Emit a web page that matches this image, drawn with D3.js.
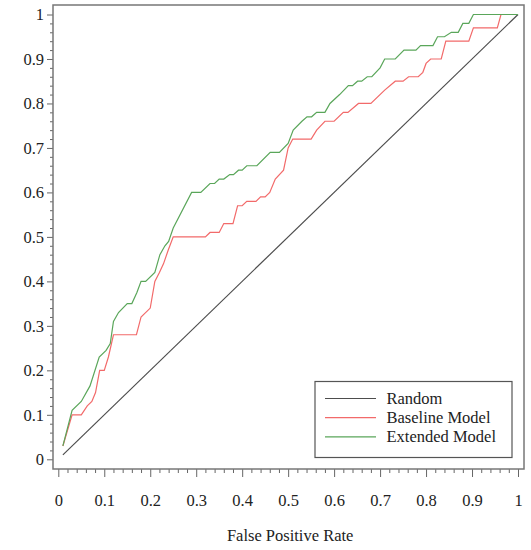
<!DOCTYPE html>
<html>
<head>
<meta charset="utf-8">
<script src="https://cdn.jsdelivr.net/npm/d3@7"></script>
<style>
  html, body { margin: 0; padding: 0; background: #fff; }
  svg { display: block; }
  text { font-family: "Liberation Serif", "Times New Roman", serif; fill: #222; }
</style>
</head>
<body>
<svg id="chart" width="531" height="550"></svg>
<script>
// ---- data ----
const seriesNames = ["Random", "Baseline Model", "Extended Model"];
const seriesColors = ["#4d4d4d", "#f26a6a", "#5aa65a"];

const randomFPR = [0.01, 1.0];
const randomTPR = [0.01, 1.0];

const baselineFPR = [0.01,0.03,0.05,0.063,0.073,0.081,0.09,0.10,0.109,0.12,0.17,0.18,0.20,0.21,0.22,0.229,0.239,0.25,0.32,0.33,0.35,0.36,0.38,0.39,0.40,0.41,0.43,0.44,0.45,0.46,0.472,0.49,0.50,0.51,0.55,0.562,0.58,0.60,0.62,0.63,0.653,0.68,0.71,0.733,0.75,0.762,0.783,0.793,0.80,0.81,0.833,0.843,0.893,0.903,0.955,0.963,1.0];
const baselineTPR = [0.03,0.10,0.10,0.12,0.13,0.15,0.20,0.20,0.23,0.28,0.28,0.32,0.34,0.40,0.42,0.44,0.47,0.50,0.50,0.51,0.51,0.53,0.53,0.57,0.57,0.58,0.58,0.59,0.59,0.60,0.63,0.65,0.70,0.72,0.72,0.74,0.76,0.76,0.78,0.78,0.80,0.80,0.83,0.85,0.85,0.86,0.86,0.87,0.89,0.90,0.90,0.94,0.94,0.97,0.97,1.0,1.0];

const extendedFPR = [0.01,0.03,0.05,0.069,0.089,0.104,0.113,0.12,0.131,0.15,0.16,0.171,0.18,0.19,0.21,0.221,0.232,0.24,0.25,0.29,0.31,0.33,0.34,0.35,0.36,0.373,0.381,0.392,0.40,0.41,0.432,0.461,0.481,0.50,0.511,0.53,0.541,0.551,0.562,0.58,0.591,0.612,0.631,0.64,0.651,0.66,0.672,0.682,0.70,0.71,0.733,0.752,0.778,0.788,0.815,0.825,0.84,0.855,0.87,0.88,0.893,0.903,1.0];
const extendedTPR = [0.03,0.11,0.13,0.165,0.23,0.245,0.26,0.31,0.33,0.35,0.35,0.375,0.40,0.40,0.42,0.46,0.48,0.49,0.52,0.60,0.60,0.62,0.62,0.63,0.63,0.64,0.64,0.65,0.65,0.66,0.66,0.69,0.69,0.71,0.74,0.76,0.77,0.77,0.78,0.78,0.80,0.82,0.84,0.84,0.85,0.85,0.86,0.86,0.88,0.90,0.90,0.92,0.92,0.93,0.93,0.95,0.95,0.96,0.96,0.98,0.98,1.0,1.0];

const majorTicks = [0,0.1,0.2,0.3,0.4,0.5,0.6,0.7,0.8,0.9,1];
const majorTickLabels = ["0","0.1","0.2","0.3","0.4","0.5","0.6","0.7","0.8","0.9","1"];
const xTitle = "False Positive Rate";

// ---- layout ----
const svg = d3.select("#chart");
const frame = {left: 53, right: 524, top: 5, bottom: 469};
const x = d3.scaleLinear().domain([0, 1]).range([58.3, 518]);
const y = d3.scaleLinear().domain([0, 1]).range([459.3, 14.5]);

const minorTicks = d3.range(0, 1.0001, 0.02).map(v => +v.toFixed(2))
  .filter(v => !majorTicks.some(m => Math.abs(m - v) < 1e-9));

const fmt = v => majorTickLabels[majorTicks.findIndex(m => Math.abs(m - v) < 1e-9)];

// minor ticks
svg.append("g").attr("transform", `translate(${frame.left},0)`)
  .call(d3.axisLeft(y).tickValues(minorTicks).tickSize(3).tickFormat(""))
  .call(g => g.select(".domain").remove())
  .call(g => g.selectAll("line").attr("stroke", "#666"));
svg.append("g").attr("transform", `translate(0,${frame.bottom})`)
  .call(d3.axisBottom(x).tickValues(minorTicks).tickSize(4).tickFormat(""))
  .call(g => g.select(".domain").remove())
  .call(g => g.selectAll("line").attr("stroke", "#666"));

// major ticks
svg.append("g").attr("transform", `translate(${frame.left},0)`)
  .call(d3.axisLeft(y).tickValues(majorTicks).tickSize(6).tickPadding(3).tickFormat(fmt))
  .call(g => g.select(".domain").remove())
  .call(g => g.selectAll("line").attr("stroke", "#666"))
  .call(g => g.selectAll("text").attr("font-size", 16.5).attr("font-family", "Liberation Serif, serif").attr("fill", "#222"));
svg.append("g").attr("transform", `translate(0,${frame.bottom})`)
  .call(d3.axisBottom(x).tickValues(majorTicks).tickSize(8).tickPadding(17).tickFormat(fmt))
  .call(g => g.select(".domain").remove())
  .call(g => g.selectAll("line").attr("stroke", "#666"))
  .call(g => g.selectAll("text").attr("font-size", 16.5).attr("font-family", "Liberation Serif, serif").attr("fill", "#222"));

// frame
svg.append("rect")
  .attr("x", frame.left).attr("y", frame.top)
  .attr("width", frame.right - frame.left).attr("height", frame.bottom - frame.top)
  .attr("fill", "none").attr("stroke", "#777").attr("stroke-width", 1.5);

// lines
const line = d3.line().x(d => x(d[0])).y(d => y(d[1]));
const series = [
  d3.zip(randomFPR, randomTPR),
  d3.zip(baselineFPR, baselineTPR),
  d3.zip(extendedFPR, extendedTPR)
];
series.forEach((s, i) => {
  svg.append("path").datum(s).attr("d", line)
    .attr("fill", "none").attr("stroke", seriesColors[i]).attr("stroke-width", 1.2);
});

// x title
svg.append("text").attr("x", (x(0) + x(1)) / 2 + 2).attr("y", 541)
  .attr("text-anchor", "middle").attr("font-size", 16.5).text(xTitle);

// legend
const lg = svg.append("g");
lg.append("rect").attr("x", 315).attr("y", 381.5).attr("width", 197).attr("height", 76)
  .attr("fill", "#fff").attr("stroke", "#555").attr("stroke-width", 1.2);
seriesNames.forEach((n, i) => {
  const yy = 398.5 + i * 19.2;
  lg.append("line").attr("x1", 325).attr("x2", 376).attr("y1", yy).attr("y2", yy)
    .attr("stroke", seriesColors[i]).attr("stroke-width", 1.2);
  lg.append("text").attr("x", 386.5).attr("y", yy + 5.5).attr("font-size", 16.5).text(n);
});
</script>
</body>
</html>
